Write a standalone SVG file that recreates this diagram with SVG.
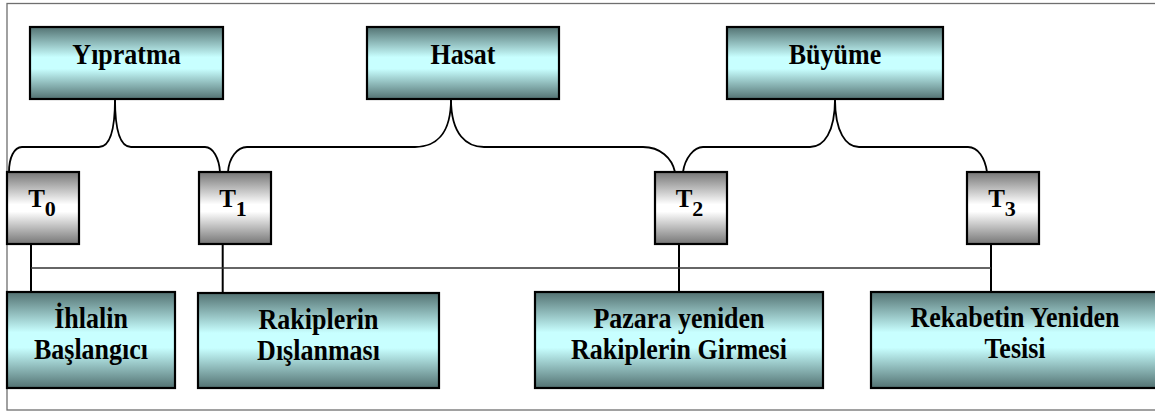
<svg xmlns="http://www.w3.org/2000/svg" width="1155" height="412" viewBox="0 0 1155 412">
<defs>
<linearGradient id="teal" x1="0" y1="0" x2="0" y2="1">
<stop offset="0" stop-color="#537272"/>
<stop offset="0.42" stop-color="#c8ffff"/>
<stop offset="0.58" stop-color="#c8ffff"/>
<stop offset="1" stop-color="#537272"/>
</linearGradient>
<linearGradient id="gray" x1="0" y1="0" x2="0" y2="1">
<stop offset="0" stop-color="#767676"/>
<stop offset="0.45" stop-color="#ffffff"/>
<stop offset="0.55" stop-color="#ffffff"/>
<stop offset="1" stop-color="#767676"/>
</linearGradient>
</defs>
<style>
.frame{fill:#ffffff;stroke:#6f6f6f;stroke-width:1.3}
.box{fill:url(#teal);stroke:#000;stroke-width:2.2}
.tbox{fill:url(#gray);stroke:#000;stroke-width:2.2}
.lbl{font-family:"Liberation Serif","Times New Roman",serif;font-weight:bold;font-size:26px;fill:#000;text-anchor:middle}
.tl{font-family:"Liberation Serif","Times New Roman",serif;font-weight:bold;font-size:25px;fill:#000;text-anchor:middle}
.brace{fill:none;stroke:#000;stroke-width:1.8}
.stem{fill:none;stroke:#000;stroke-width:2}
.bus{fill:none;stroke:#333;stroke-width:1.6}
</style>
<rect class="frame" x="7" y="3.5" width="1160" height="406.5"/>
<g id="connectors">
<path class="brace" d="M115,99 C115,130 110,147 99,147 L22,147 C14,147 9,158 9,172"/>
<path class="brace" d="M115,99 C115,130 120,147 131,147 L205,147 C213,147 219,158 220,172"/>
<path class="brace" d="M451,99 C451,135 435,147 415,147 L247,147 C237,147 229,158 228,172"/>
<path class="brace" d="M451,99 C451,135 467,147 484,147 L643,147 C660,147 672,158 675,172"/>
<path class="brace" d="M835,99 C835,132 824,147 810,147 L703,147 C694,147 685,158 683,172"/>
<path class="brace" d="M835,99 C835,132 846,147 859,147 L968,147 C978,147 985,158 987,172"/>
<line class="stem" x1="31" y1="244" x2="31" y2="292"/>
<line class="stem" x1="222.7" y1="244" x2="222.7" y2="293"/>
<line class="stem" x1="679" y1="244" x2="679" y2="292"/>
<line class="stem" x1="991" y1="244" x2="991" y2="292"/>
<line class="bus" x1="31" y1="268" x2="991" y2="268"/>
</g>
<g id="yipratma">
<rect class="box" x="30" y="27" width="193" height="72"/>
<text class="lbl" transform="translate(126.5,64) scale(1,1.12)">Yıpratma</text>
</g>
<g id="hasat">
<rect class="box" x="367" y="27" width="192" height="72"/>
<text class="lbl" transform="translate(463,64) scale(1,1.12)">Hasat</text>
</g>
<g id="buyume">
<rect class="box" x="727" y="27" width="216" height="72"/>
<text class="lbl" transform="translate(835,64) scale(1,1.12)">Büyüme</text>
</g>
<g id="t0">
<rect class="tbox" x="7" y="172" width="72" height="72"/>
<text class="tl" x="42" y="207">T<tspan font-size="22" dy="9">0</tspan></text>
</g>
<g id="t1">
<rect class="tbox" x="199" y="172" width="72" height="72"/>
<text class="tl" x="233" y="207">T<tspan font-size="22" dy="9">1</tspan></text>
</g>
<g id="t2">
<rect class="tbox" x="655" y="172" width="72" height="72"/>
<text class="tl" x="689.5" y="207">T<tspan font-size="22" dy="9">2</tspan></text>
</g>
<g id="t3">
<rect class="tbox" x="967" y="172" width="72" height="72"/>
<text class="tl" x="1002" y="207">T<tspan font-size="22" dy="9">3</tspan></text>
</g>
<g id="ihlalin">
<rect class="box" x="7" y="292" width="168" height="96"/>
<text class="lbl" transform="translate(91,328) scale(1,1.12)">İhlalin</text>
<text class="lbl" transform="translate(91,359) scale(1,1.12)">Başlangıcı</text>
</g>
<g id="rakiplerin">
<rect class="box" x="198" y="293" width="241" height="95"/>
<text class="lbl" transform="translate(318.5,329) scale(1,1.12)">Rakiplerin</text>
<text class="lbl" transform="translate(318.5,360) scale(1,1.12)">Dışlanması</text>
</g>
<g id="pazara">
<rect class="box" x="535" y="292" width="288" height="96"/>
<text class="lbl" transform="translate(679,328) scale(1,1.12)">Pazara yeniden</text>
<text class="lbl" transform="translate(679,359) scale(1,1.12)">Rakiplerin Girmesi</text>
</g>
<g id="rekabetin">
<rect class="box" x="871" y="292" width="290" height="96"/>
<text class="lbl" transform="translate(1015,327) scale(1,1.12)">Rekabetin Yeniden</text>
<text class="lbl" transform="translate(1015,358) scale(1,1.12)">Tesisi</text>
</g>
</svg>
